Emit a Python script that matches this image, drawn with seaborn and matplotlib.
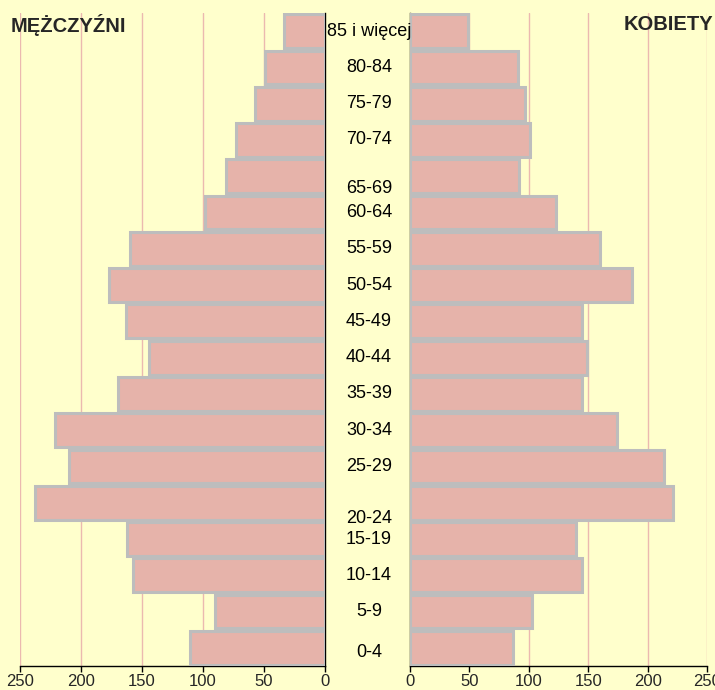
import matplotlib
matplotlib.use("Agg")
import matplotlib.pyplot as plt
import matplotlib.transforms as mtransforms
import seaborn as sns
import pandas as pd

# age groups, youngest first
age_groups = ["0-4", "5-9", "10-14", "15-19", "20-24", "25-29", "30-34", "35-39",
              "40-44", "45-49", "50-54", "55-59", "60-64", "65-69", "70-74",
              "75-79", "80-84", "85 i więcej"]
men = [111, 90, 157, 162, 238, 210, 221, 170, 144, 163, 177, 160, 98, 81, 73, 57, 49, 34]
women = [87, 103, 145, 140, 221, 214, 174, 145, 149, 145, 187, 160, 123, 92, 101, 97, 91, 49]
x_ticks = [0, 50, 100, 150, 200, 250]

order = age_groups[::-1]  # top to bottom
df = pd.DataFrame({"wiek": age_groups, "M": men, "K": women})

sns.set_style("white")
plt.rcParams["font.family"] = ["Liberation Sans", "DejaVu Sans"]

bg = "#ffffcc"
bar_fill = "#e6b3aa"
bar_edge = "#bdbdbd"
grid_col = "#ebb9b0"

fig = plt.figure(figsize=(7.15, 6.9), dpi=100, facecolor=bg)
ax_l = fig.add_axes([20 / 715, 24 / 690, 305 / 715, 653 / 690])
ax_r = fig.add_axes([410 / 715, 24 / 690, 297 / 715, 653 / 690])

for ax, col in [(ax_l, "M"), (ax_r, "K")]:
    ax.set_facecolor(bg)
    sns.barplot(data=df, x=col, y="wiek", order=order, orient="h", ax=ax,
                color=bar_fill, edgecolor=bar_edge, linewidth=2.2,
                width=0.93, saturation=1, zorder=3)
    ax.set_xlim(0, 250)
    ax.set_xticks(x_ticks)
    ax.xaxis.grid(True, color=grid_col, linewidth=1, zorder=0)
    ax.set_axisbelow(True)
    ax.set_yticks([])
    ax.set_xlabel("")
    ax.set_ylabel("")
    ax.set_ylim(len(order) - 0.5, -0.5)
    ax.tick_params(axis="x", bottom=True, direction="out", length=4, width=1,
                   color="black", labelsize=12, pad=2)
    for s in ax.spines.values():
        s.set_color("black")
        s.set_linewidth(1)
    ax.spines["top"].set_visible(False)

ax_l.invert_xaxis()
ax_l.spines["left"].set_visible(False)
ax_r.spines["right"].set_visible(False)

# centre labels (a couple are shifted in the original)
shift = {"65-69": 0.33, "20-24": 0.44, "0-4": 0.12}
trans = mtransforms.blended_transform_factory(fig.transFigure, ax_l.transData)
for i, lab in enumerate(order):
    fig.text(369 / 715, i + shift.get(lab, 0), lab, transform=trans,
             ha="center", va="center", fontsize=13, color="black")

fig.text(11 / 715, 1 - 25 / 690, "MĘŻCZYŹNI", ha="left", va="center",
         fontsize=14.5, fontweight="bold")
fig.text(713 / 715, 1 - 25 / 690, "KOBIETY", ha="right", va="center",
         fontsize=14.5, fontweight="bold")

fig.savefig("out.png", dpi=100, facecolor=bg)
